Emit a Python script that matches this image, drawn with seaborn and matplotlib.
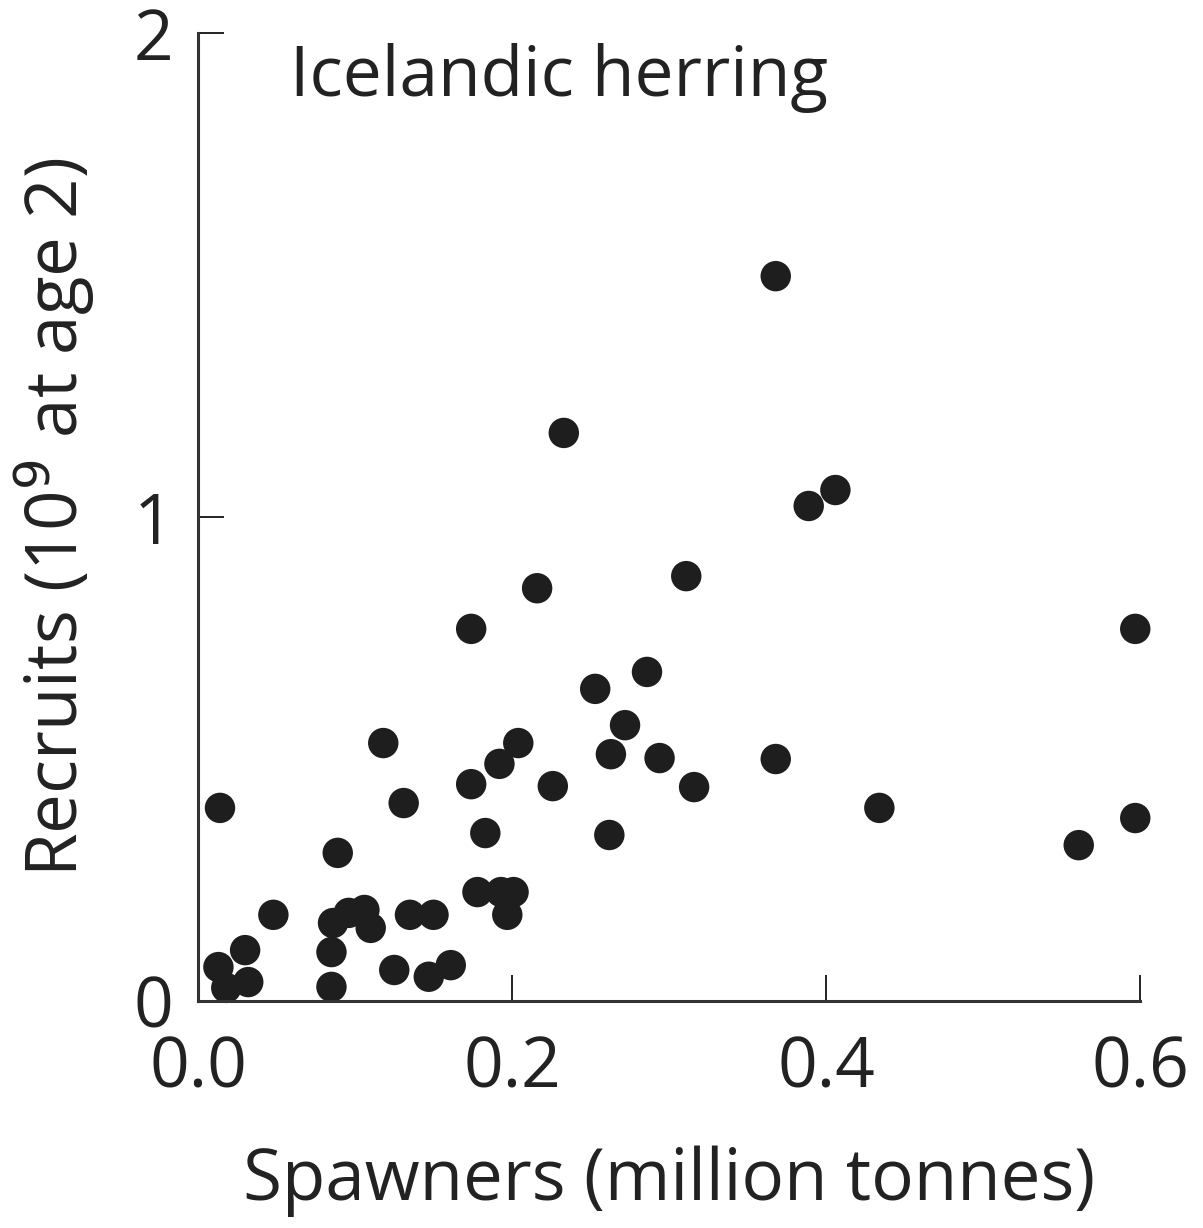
# spawner-recruit scatter for icelandic herring

import matplotlib
matplotlib.use("Agg")
import matplotlib.pyplot as plt
import pandas as pd
import seaborn as sns

# spawning stock (million tonnes) and recruits (10^9 at age 2)
spawners = [
    0.368, 0.233, 0.389, 0.406, 0.311, 0.216, 0.174, 0.597, 0.286, 0.253,
    0.272, 0.118, 0.204, 0.192, 0.263, 0.294, 0.368, 0.174, 0.226, 0.316,
    0.131, 0.014, 0.434, 0.597, 0.183, 0.262, 0.561, 0.089, 0.178, 0.193,
    0.201, 0.197, 0.048, 0.086, 0.096, 0.106, 0.110, 0.135, 0.150, 0.085,
    0.085, 0.125, 0.147, 0.161, 0.013, 0.030, 0.032, 0.018,
]
recruits = [
    1.498, 1.174, 1.023, 1.056, 0.878, 0.853, 0.769, 0.769, 0.680, 0.645,
    0.570, 0.533, 0.533, 0.490, 0.510, 0.502, 0.500, 0.448, 0.444, 0.442,
    0.409, 0.399, 0.399, 0.378, 0.347, 0.343, 0.322, 0.306, 0.225, 0.225,
    0.225, 0.178, 0.178, 0.161, 0.182, 0.188, 0.151, 0.178, 0.178, 0.101,
    0.029, 0.064, 0.050, 0.074, 0.070, 0.105, 0.039, 0.027,
]
x_ticks = [0.0, 0.2, 0.4, 0.6]
x_tick_labels = ["0.0", "0.2", "0.4", "0.6"]
y_ticks = [0, 1, 2]
y_tick_labels = ["0", "1", "2"]

df = pd.DataFrame({"spawners": spawners, "recruits": recruits})

sns.set_style("ticks")
plt.rcParams["font.family"] = ["Open Sans", "DejaVu Sans"]

fig = plt.figure(figsize=(12.03, 12.28), dpi=100)
ax = fig.add_axes([0.1646, 0.1849, 0.783, 0.788])

sns.scatterplot(data=df, x="spawners", y="recruits", ax=ax,
                s=480, color="#1e1e1e", edgecolor="none", clip_on=False)

ax.set_xlim(0, 0.6)
ax.set_ylim(0, 2)
ax.set_xticks(x_ticks)
ax.set_xticklabels(x_tick_labels)
ax.set_yticks(y_ticks)
ax.set_yticklabels(y_tick_labels)
ax.tick_params(direction="in", length=19, width=1.4, colors="#222222",
               labelsize=50, pad=24)
ax.tick_params(axis="y", pad=18)

sns.despine(ax=ax)
for side in ["left", "bottom"]:
    ax.spines[side].set_linewidth(2.2)
    ax.spines[side].set_color("#333333")

ax.set_xlabel("Spawners (million tonnes)", fontsize=51, labelpad=30, color="#222222")
ax.set_ylabel("Recruits (10$^{9}$ at age 2)", fontsize=51, labelpad=26, color="#222222")
ax.text(0.098, 0.99, "Icelandic herring", transform=ax.transAxes,
        fontsize=50, va="top", ha="left", color="#222222")

fig.savefig("out.png", dpi=100, facecolor="white")
